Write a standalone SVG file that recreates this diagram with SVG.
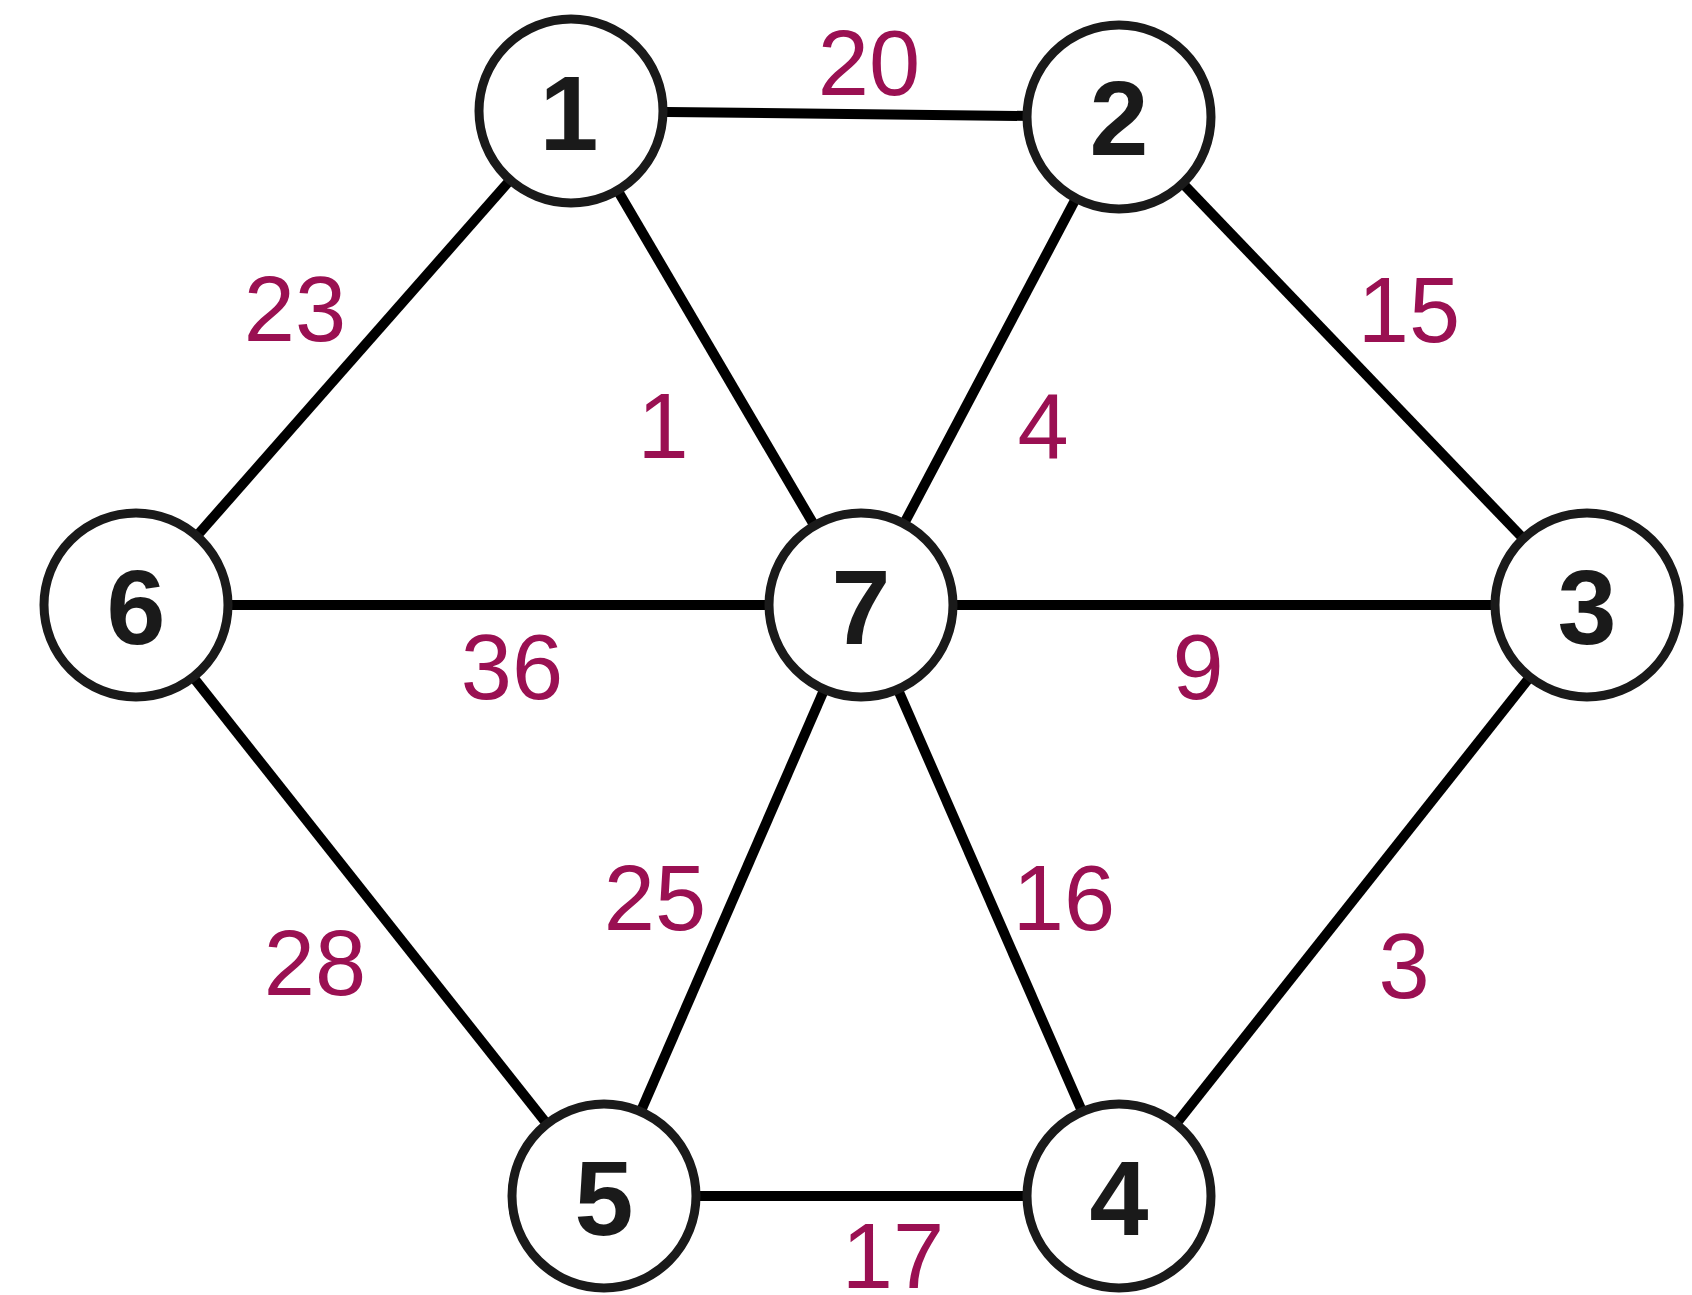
<svg xmlns="http://www.w3.org/2000/svg" width="1692" height="1295" viewBox="0 0 1692 1295">
<style>
.edge{stroke:#000;stroke-width:10;fill:none}
.node circle{fill:#fff;stroke:#1a1a1a;stroke-width:9}
.node text{font-family:"Liberation Sans",Arial,sans-serif;font-weight:bold;font-size:106px;fill:#1a1a1a;text-anchor:middle}
.lbl{font-family:"Liberation Sans",Arial,sans-serif;font-size:92px;fill:#9a1052;text-anchor:middle}
</style>
<rect width="1692" height="1295" fill="#fff"/>
<g id="edges">
<line class="edge" x1="571" y1="111" x2="1119" y2="117"/>
<line class="edge" x1="571" y1="111" x2="136" y2="605"/>
<line class="edge" x1="571" y1="111" x2="861" y2="605"/>
<line class="edge" x1="1119" y1="117" x2="861" y2="605"/>
<line class="edge" x1="1119" y1="117" x2="1587" y2="605"/>
<line class="edge" x1="136" y1="605" x2="861" y2="605"/>
<line class="edge" x1="861" y1="605" x2="1587" y2="605"/>
<line class="edge" x1="136" y1="605" x2="604" y2="1196"/>
<line class="edge" x1="861" y1="605" x2="604" y2="1196"/>
<line class="edge" x1="861" y1="605" x2="1119" y2="1196"/>
<line class="edge" x1="1587" y1="605" x2="1119" y2="1196"/>
<line class="edge" x1="604" y1="1196" x2="1119" y2="1196"/>
</g>
<g id="edge-labels">
<text class="lbl" x="869" y="95">20</text>
<text class="lbl" x="295" y="341">23</text>
<text class="lbl" x="663" y="458">1</text>
<text class="lbl" x="1043" y="458">4</text>
<text class="lbl" x="1409" y="342">15</text>
<text class="lbl" x="512" y="699">36</text>
<text class="lbl" x="1198" y="699">9</text>
<text class="lbl" x="655" y="930">25</text>
<text class="lbl" x="1064" y="930">16</text>
<text class="lbl" x="315" y="995">28</text>
<text class="lbl" x="1404" y="998">3</text>
<text class="lbl" x="893" y="1288">17</text>
</g>
<g id="node1" class="node"><circle cx="571" cy="111" r="92"/><text x="569" y="150">1</text></g>
<g id="node2" class="node"><circle cx="1119" cy="117" r="92"/><text x="1119" y="155">2</text></g>
<g id="node3" class="node"><circle cx="1587" cy="605" r="92"/><text x="1587" y="644">3</text></g>
<g id="node4" class="node"><circle cx="1119" cy="1196" r="92"/><text x="1119" y="1235">4</text></g>
<g id="node5" class="node"><circle cx="604" cy="1196" r="92"/><text x="604" y="1235">5</text></g>
<g id="node6" class="node"><circle cx="136" cy="605" r="92"/><text x="136" y="644">6</text></g>
<g id="node7" class="node"><circle cx="861" cy="605" r="92"/><text x="861" y="644">7</text></g>
</svg>
